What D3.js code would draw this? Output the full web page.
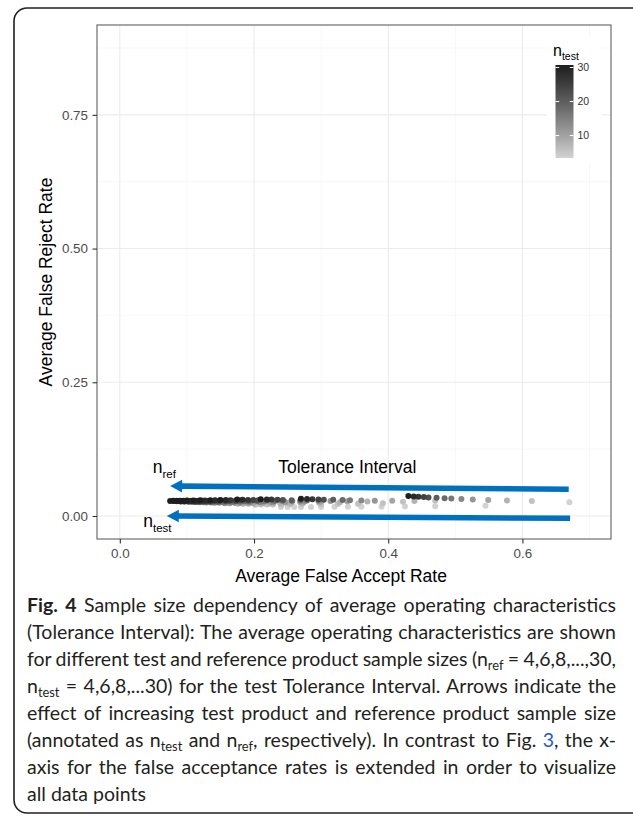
<!DOCTYPE html>
<html>
<head>
<meta charset="utf-8">
<title>Fig. 4 Tolerance Interval operating characteristics</title>
<script src="https://d3js.org/d3.v7.min.js"></script>
<style>
  body { margin: 0; background: #fff; }
  #wrap { position: relative; width: 633px; height: 816px; overflow: hidden; }
  #chart { position: absolute; left: 0; top: 0; }
  #caption {
    position: absolute; left: 27px; top: 591px; width: 589px;
    font-family: Lato, sans-serif; font-size: 19.5px; line-height: 27px; color: #231f20;
  }
  #caption .ln { white-space: nowrap; }
  #caption sub { font-size: 0.66em; vertical-align: -0.3em; line-height: 0; }
  #caption .link { color: #2a5cc4; }
</style>
</head>
<body>
<div id="wrap">
  <div id="chart"></div>
  <div id="caption">
    <div class="ln"><b>Fig. 4</b> Sample size dependency of average operating characteristics</div>
    <div class="ln">(Tolerance Interval): The average operating characteristics are shown</div>
    <div class="ln">for different test and reference product sample sizes (n<sub>ref</sub> = 4,6,8,...,30,</div>
    <div class="ln">n<sub>test</sub> = 4,6,8,...30) for the test Tolerance Interval. Arrows indicate the</div>
    <div class="ln">effect of increasing test product and reference product sample size</div>
    <div class="ln">(annotated as n<sub>test</sub> and n<sub>ref</sub>, respectively). In contrast to Fig. <span class="link">3</span>, the x-</div>
    <div class="ln">axis for the false acceptance rates is extended in order to visualize</div>
    <div class="ln last">all data points</div>
  </div>
</div>
<script>
  // sample sizes
  var nRef  = [4, 6, 8, 10, 12, 14, 16, 18, 20, 22, 24, 26, 28, 30];
  var nTest = [4, 6, 8, 10, 12, 14, 16, 18, 20, 22, 24, 26, 28, 30];

  // average false accept rate, one row per nRef, columns follow nTest
  var far = [
    [0.670, 0.614, 0.577, 0.549, 0.526, 0.509, 0.494, 0.484, 0.472, 0.460, 0.453, 0.445, 0.438, 0.430],
    [0.545, 0.470, 0.439, 0.406, 0.380, 0.360, 0.343, 0.332, 0.318, 0.304, 0.296, 0.287, 0.279, 0.270],
    [0.470, 0.422, 0.369, 0.339, 0.314, 0.296, 0.279, 0.269, 0.256, 0.243, 0.235, 0.226, 0.219, 0.210],
    [0.425, 0.392, 0.328, 0.299, 0.275, 0.257, 0.242, 0.231, 0.219, 0.206, 0.199, 0.191, 0.183, 0.175],
    [0.390, 0.355, 0.297, 0.269, 0.246, 0.229, 0.214, 0.204, 0.192, 0.180, 0.173, 0.165, 0.158, 0.150],
    [0.360, 0.325, 0.273, 0.247, 0.225, 0.209, 0.195, 0.186, 0.174, 0.163, 0.157, 0.149, 0.142, 0.135],
    [0.340, 0.300, 0.255, 0.229, 0.208, 0.192, 0.179, 0.170, 0.159, 0.148, 0.141, 0.134, 0.127, 0.120],
    [0.320, 0.271, 0.239, 0.214, 0.194, 0.179, 0.166, 0.157, 0.147, 0.136, 0.130, 0.123, 0.117, 0.110],
    [0.300, 0.253, 0.223, 0.199, 0.180, 0.166, 0.153, 0.145, 0.135, 0.125, 0.119, 0.113, 0.107, 0.100],
    [0.285, 0.241, 0.211, 0.189, 0.171, 0.158, 0.146, 0.138, 0.128, 0.119, 0.113, 0.107, 0.101, 0.095],
    [0.270, 0.228, 0.200, 0.179, 0.162, 0.149, 0.138, 0.131, 0.122, 0.113, 0.107, 0.101, 0.096, 0.090],
    [0.260, 0.219, 0.192, 0.172, 0.155, 0.143, 0.132, 0.124, 0.116, 0.107, 0.102, 0.096, 0.091, 0.085],
    [0.250, 0.210, 0.184, 0.164, 0.148, 0.136, 0.125, 0.118, 0.110, 0.101, 0.096, 0.091, 0.086, 0.080],
    [0.240, 0.202, 0.176, 0.157, 0.141, 0.129, 0.119, 0.112, 0.104, 0.096, 0.091, 0.085, 0.080, 0.075]
  ];

  // average false reject rate, same layout
  var frr = [
    [0.0255, 0.0280, 0.0290, 0.0300, 0.0310, 0.0318, 0.0325, 0.0332, 0.0340, 0.0347, 0.0353, 0.0360, 0.0366, 0.0373],
    [0.0190, 0.0285, 0.0280, 0.0283, 0.0287, 0.0290, 0.0294, 0.0298, 0.0302, 0.0306, 0.0310, 0.0314, 0.0318, 0.0322],
    [0.0180, 0.0265, 0.0270, 0.0275, 0.0280, 0.0284, 0.0288, 0.0292, 0.0296, 0.0300, 0.0304, 0.0307, 0.0310, 0.0313],
    [0.0178, 0.0240, 0.0255, 0.0265, 0.0272, 0.0278, 0.0283, 0.0287, 0.0291, 0.0295, 0.0298, 0.0301, 0.0304, 0.0307],
    [0.0175, 0.0230, 0.0248, 0.0258, 0.0266, 0.0272, 0.0277, 0.0281, 0.0285, 0.0289, 0.0292, 0.0295, 0.0298, 0.0301],
    [0.0173, 0.0225, 0.0243, 0.0253, 0.0261, 0.0267, 0.0272, 0.0276, 0.0280, 0.0284, 0.0287, 0.0290, 0.0293, 0.0296],
    [0.0172, 0.0222, 0.0240, 0.0250, 0.0258, 0.0264, 0.0269, 0.0273, 0.0277, 0.0281, 0.0284, 0.0287, 0.0290, 0.0293],
    [0.0171, 0.0220, 0.0237, 0.0247, 0.0255, 0.0261, 0.0266, 0.0270, 0.0274, 0.0278, 0.0281, 0.0284, 0.0287, 0.0290],
    [0.0170, 0.0218, 0.0235, 0.0245, 0.0253, 0.0259, 0.0264, 0.0268, 0.0272, 0.0276, 0.0279, 0.0282, 0.0285, 0.0288],
    [0.0169, 0.0216, 0.0233, 0.0243, 0.0251, 0.0257, 0.0262, 0.0266, 0.0270, 0.0274, 0.0277, 0.0280, 0.0283, 0.0286],
    [0.0168, 0.0215, 0.0232, 0.0242, 0.0250, 0.0256, 0.0261, 0.0265, 0.0269, 0.0273, 0.0276, 0.0279, 0.0282, 0.0285],
    [0.0168, 0.0214, 0.0231, 0.0241, 0.0249, 0.0255, 0.0260, 0.0264, 0.0268, 0.0272, 0.0275, 0.0278, 0.0281, 0.0284],
    [0.0167, 0.0213, 0.0230, 0.0240, 0.0248, 0.0254, 0.0259, 0.0263, 0.0267, 0.0271, 0.0274, 0.0277, 0.0280, 0.0283],
    [0.0167, 0.0212, 0.0229, 0.0239, 0.0247, 0.0253, 0.0258, 0.0262, 0.0266, 0.0270, 0.0273, 0.0276, 0.0279, 0.0282]
  ];

  var xTicks = [0, 0.2, 0.4, 0.6];
  var xMinor = [0.1, 0.3, 0.5, 0.7];
  var yTicks = [0, 0.25, 0.5, 0.75];
  var yMinor = [0.125, 0.375, 0.625, 0.875];
  var legendTicks = [10, 20, 30];

  var sans = "'Liberation Sans', Arial, sans-serif";
  var blue = "#0070c0";

  var svg = d3.select("#chart").append("svg")
    .attr("width", 633)
    .attr("height", 816);

  // figure card
  svg.append("rect")
    .attr("x", 14).attr("y", 8)
    .attr("width", 700).attr("height", 805)
    .attr("rx", 13)
    .attr("fill", "none")
    .attr("stroke", "#231f20")
    .attr("stroke-width", 1.6);

  var x = d3.scaleLinear().domain([-0.034, 0.732]).range([97, 611]);
  var y = d3.scaleLinear().domain([-0.043, 0.918]).range([539, 25]);
  var color = d3.scaleLinear().domain([4, 30])
    .range(["#d2d2d2", "#1e1e1e"])
    .interpolate(d3.interpolateLab);

  var x0 = x.range()[0], x1 = x.range()[1];
  var y0 = y.range()[1], y1 = y.range()[0];

  // grid
  var grid = svg.append("g");
  grid.selectAll(".vmin").data(xMinor).enter().append("line")
    .attr("x1", d => x(d)).attr("x2", d => x(d)).attr("y1", y0).attr("y2", y1)
    .attr("stroke", "#f2f2f2").attr("stroke-width", 0.6);
  grid.selectAll(".hmin").data(yMinor).enter().append("line")
    .attr("y1", d => y(d)).attr("y2", d => y(d)).attr("x1", x0).attr("x2", x1)
    .attr("stroke", "#f2f2f2").attr("stroke-width", 0.6);
  grid.selectAll(".vmaj").data(xTicks).enter().append("line")
    .attr("x1", d => x(d)).attr("x2", d => x(d)).attr("y1", y0).attr("y2", y1)
    .attr("stroke", "#ebebeb").attr("stroke-width", 1.1);
  grid.selectAll(".hmaj").data(yTicks).enter().append("line")
    .attr("y1", d => y(d)).attr("y2", d => y(d)).attr("x1", x0).attr("x2", x1)
    .attr("stroke", "#ebebeb").attr("stroke-width", 1.1);

  // points
  var points = [];
  nRef.forEach((r, i) => {
    nTest.forEach((t, j) => {
      points.push({ref: r, test: t, far: far[i][j], frr: frr[i][j]});
    });
  });
  points.sort((a, b) => a.test - b.test);

  svg.append("g").selectAll("circle")
    .data(points)
    .enter()
    .append("circle")
    .attr("cx", d => x(d.far))
    .attr("cy", d => y(d.frr))
    .attr("r", 3)
    .attr("fill", d => color(d.test));

  // arrows
  function arrow(a, b) {
    var px1 = x(a[0]), py1 = y(a[1]), px2 = x(b[0]), py2 = y(b[1]);
    var ang = Math.atan2(py2 - py1, px2 - px1);
    var L = 12, W = 6.3;
    var bx = px2 - L * Math.cos(ang), by = py2 - L * Math.sin(ang);
    svg.append("line")
      .attr("x1", px1).attr("y1", py1)
      .attr("x2", bx + 1.5 * Math.cos(ang)).attr("y2", by + 1.5 * Math.sin(ang))
      .attr("stroke", blue).attr("stroke-width", 5.6);
    svg.append("path")
      .attr("d", "M" + px2 + "," + py2 +
                 "L" + (bx - W * Math.sin(ang)) + "," + (by + W * Math.cos(ang)) +
                 "L" + (bx + W * Math.sin(ang)) + "," + (by - W * Math.cos(ang)) + "Z")
      .attr("fill", blue);
  }
  arrow([0.669, 0.050], [0.075, 0.056]);
  arrow([0.671, -0.0043], [0.070, 0.000]);

  // annotations
  svg.append("text")
    .attr("x", x(0.236)).attr("y", y(0.080))
    .attr("font-family", sans).attr("font-size", 17.5).attr("fill", "#000")
    .text("Tolerance Interval");

  function subLabel(px, py, main, sub, fs, sfs, dy, fill) {
    var t = svg.append("text")
      .attr("x", px).attr("y", py)
      .attr("font-family", sans).attr("fill", fill || "#000");
    t.append("tspan").attr("font-size", fs).text(main);
    t.append("tspan").attr("font-size", sfs).attr("dy", dy).text(sub);
    return t;
  }
  subLabel(x(0.049), y(0.080), "n", "ref", 17.5, 11.5, 4.5);
  subLabel(x(0.035), y(-0.0212), "n", "test", 17.5, 11.5, 4.5);

  // panel border
  svg.append("rect")
    .attr("x", x0).attr("y", y0)
    .attr("width", x1 - x0).attr("height", y1 - y0)
    .attr("fill", "none").attr("stroke", "#6e6e6e").attr("stroke-width", 1.2);

  // axes
  var xAxis = svg.append("g")
    .attr("transform", "translate(0," + y1 + ")")
    .call(d3.axisBottom(x).tickValues(xTicks).tickFormat(d3.format(".1f")).tickSize(4.5).tickPadding(4.5));
  var yAxis = svg.append("g")
    .attr("transform", "translate(" + x0 + ",0)")
    .call(d3.axisLeft(y).tickValues(yTicks).tickFormat(d3.format(".2f")).tickSize(4.5).tickPadding(4.5));
  [xAxis, yAxis].forEach(g => {
    g.select(".domain").remove();
    g.selectAll(".tick line").attr("stroke", "#333").attr("stroke-width", 1.1);
    g.selectAll(".tick text").attr("fill", "#4d4d4d").attr("font-size", 13.4).attr("font-family", sans);
  });

  svg.append("text")
    .attr("x", 341).attr("y", 582)
    .attr("text-anchor", "middle")
    .attr("font-family", sans).attr("font-size", 17.5)
    .text("Average False Accept Rate");

  svg.append("text")
    .attr("transform", "translate(52," + ((y0 + y1) / 2) + ") rotate(-90)")
    .attr("text-anchor", "middle")
    .attr("font-family", sans).attr("font-size", 17.5)
    .text("Average False Reject Rate");

  // colour legend
  var leg = svg.append("g");
  leg.append("rect")
    .attr("x", 547).attr("y", 37).attr("width", 55).attr("height", 126)
    .attr("fill", "#fff");
  subLabel(553, 56, "n", "test", 16, 10.5, 3.5);

  var grad = svg.append("defs").append("linearGradient")
    .attr("id", "ntestGrad")
    .attr("x1", 0).attr("y1", 1).attr("x2", 0).attr("y2", 0);
  d3.range(0, 1.0001, 0.1).forEach(f => {
    grad.append("stop").attr("offset", f).attr("stop-color", color(4 + f * 26));
  });
  var lg = d3.scaleLinear().domain([4, 30]).range([156, 67.5]);
  leg.append("rect")
    .attr("x", 555.5).attr("y", 65)
    .attr("width", 18).attr("height", 93)
    .attr("fill", "url(#ntestGrad)");
  leg.selectAll(".lt").data(legendTicks).enter().append("g").each(function (d) {
    var g = d3.select(this);
    g.append("line").attr("x1", 555.5).attr("x2", 559.2).attr("y1", lg(d)).attr("y2", lg(d))
      .attr("stroke", "#fff").attr("stroke-width", 1);
    g.append("line").attr("x1", 569.8).attr("x2", 573.5).attr("y1", lg(d)).attr("y2", lg(d))
      .attr("stroke", "#fff").attr("stroke-width", 1);
    g.append("text").attr("x", 577.5).attr("y", lg(d)).attr("dy", "0.35em")
      .attr("font-family", sans).attr("font-size", 10.5).attr("fill", "#333")
      .text(d);
  });

  // justify caption lines to the full column width (last line stays ragged)
  var colWidth = 589;
  d3.selectAll("#caption .ln").each(function () {
    if (this.classList.contains("last")) return;
    var r = document.createRange();
    r.selectNodeContents(this);
    var w = r.getBoundingClientRect().width;
    var spaces = (this.textContent.match(/ /g) || []).length;
    if (spaces > 0) this.style.wordSpacing = ((colWidth - w) / spaces) + "px";
  });
</script>
</body>
</html>
